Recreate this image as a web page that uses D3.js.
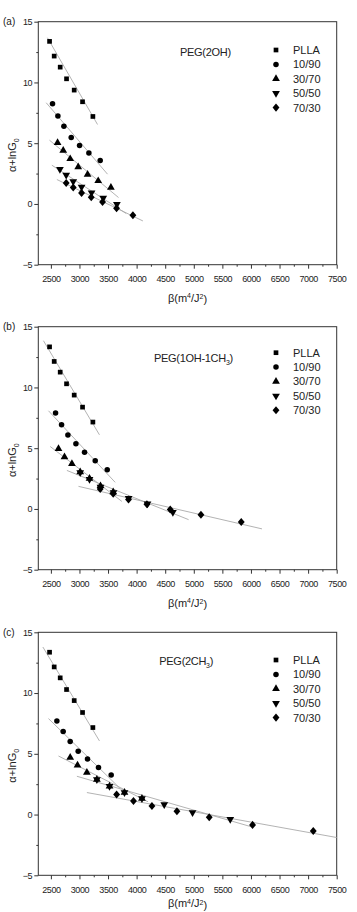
<!DOCTYPE html>
<html>
<head>
<meta charset="utf-8">
<script src="https://cdn.jsdelivr.net/npm/d3@7"></script>
<style>
    body { margin: 0; background: #fff; }
    svg { display: block; font-family: "Liberation Sans", Arial, sans-serif; }
</style>
</head>
<body>
<div id="chart"></div>
<script>
// series and axes
const seriesNames = ['PLLA', '10/90', '30/70', '50/50', '70/30'];
const panelLetters = ['(a)', '(b)', '(c)'];
const panelTitles = [['PEG(2OH)', '', ''], ['PEG(1OH-1CH', '3', ')'], ['PEG(2CH', '3', ')']];
const xTicks = [2500, 3000, 3500, 4000, 4500, 5000, 5500, 6000, 6500, 7000, 7500];
const yTicks = [-5, 0, 5, 10, 15];

// panel (a) PEG(2OH)
const aBeta = [
    [2477, 2558, 2663, 2774, 2908, 3054, 3235],
    [2529, 2623, 2728, 2856, 3002, 3165, 3363],
    [2617, 2716, 2838, 2978, 3142, 3328, 3550],
    [2658, 2768, 2891, 3037, 3212, 3416, 3655],
    [2768, 2891, 3037, 3206, 3404, 3649, 3935]
];
const aValue = [
    [13.38, 12.17, 11.26, 10.30, 9.37, 8.41, 7.20],
    [8.24, 7.23, 6.40, 5.47, 4.81, 4.20, 3.57],
    [5.03, 4.40, 3.71, 3.05, 2.42, 1.90, 1.35],
    [2.86, 2.39, 1.84, 1.40, 0.93, 0.49, -0.03],
    [1.73, 1.35, 0.91, 0.55, 0.16, -0.36, -0.93]
];
const aFit = [
    [2440, 13.68, 3316, 6.54],
    [2418, 8.33, 3491, 2.45],
    [2475, 5.25, 3683, 0.53],
    [2517, 3.19, 3818, -0.79],
    [2605, 2.01, 4110, -1.40]
];

// panel (b) PEG(1OH-1CH3)
const bBeta = [
    [2477, 2558, 2663, 2774, 2908, 3054, 3235],
    [2582, 2687, 2798, 2938, 3089, 3276, 3486],
    [2633, 2738, 2868, 3013, 3176, 3368, 3590],
    [3013, 3176, 3368, 3595, 3860, 4190, 4634],
    [3363, 3590, 3858, 4180, 4588, 5125, 5830]
];
const bValue = [
    [13.34, 12.14, 11.26, 10.30, 9.37, 8.38, 7.15],
    [7.89, 6.93, 6.08, 5.37, 4.66, 3.97, 3.23],
    [4.95, 4.27, 3.72, 3.05, 2.50, 1.90, 1.40],
    [3.00, 2.45, 1.81, 1.35, 0.88, 0.42, -0.28],
    [1.64, 1.25, 0.78, 0.38, -0.04, -0.47, -1.07]
];
const bFit = [
    [2370, 13.85, 3350, 6.10],
    [2458, 8.08, 3625, 2.19],
    [2488, 5.14, 3742, 0.62],
    [2780, 3.17, 4909, -0.88],
    [2983, 1.86, 6193, -1.64]
];

// panel (c) PEG(2CH3)
const cBeta = [
    [2477, 2558, 2663, 2774, 2908, 3054, 3235],
    [2605, 2715, 2838, 2978, 3141, 3333, 3555],
    [2838, 2966, 3130, 3305, 3526, 3788, 4093],
    [3305, 3526, 3788, 4093, 4483, 4978, 5638],
    [3650, 3945, 4268, 4705, 5270, 6028, 7090]
];
const cValue = [
    [13.36, 12.15, 11.25, 10.29, 9.38, 8.40, 7.16],
    [7.70, 6.83, 6.01, 5.21, 4.58, 3.87, 3.26],
    [4.69, 4.06, 3.46, 2.88, 2.33, 1.81, 1.32],
    [2.88, 2.33, 1.81, 1.32, 0.82, 0.16, -0.39],
    [1.65, 1.12, 0.71, 0.27, -0.22, -0.85, -1.35]
];
const cFit = [
    [2360, 13.79, 3350, 6.06],
    [2458, 7.90, 3713, 2.14],
    [2633, 4.82, 4200, 1.05],
    [2955, 3.15, 6017, -1.02],
    [3130, 1.81, 7500, -1.89]
];

const panelBeta = [aBeta, bBeta, cBeta];
const panelValue = [aValue, bValue, cValue];
const panelFit = [aFit, bFit, cFit];

// layout
const width = 357, height = 912;
const plotLeft = 38.3, plotRight = 336.7, plotH = 243;
const panelTop = [21.7, 326.7, 632.3];
const legendTop = [28.3, 26, 27.7];
const titlePos = [[180, 30], [154, 31.6], [159.3, 28.7]];
const xTitleGap = [33, 33, 28];

const svg = d3.select('#chart').append('svg')
    .attr('width', width)
    .attr('height', height);

const x = d3.scaleLinear().domain([2280, 7500]).range([plotLeft, plotRight]);

const symbols = [d3.symbolSquare, d3.symbolCircle, d3.symbolTriangle, d3.symbolTriangle, d3.symbolDiamond];
const symbolSize = [22, 24, 26, 26, 26];
const symbolRot = [0, 0, 0, 180, 0];

function marker(g, i, cx, cy) {
    g.append('path')
        .attr('d', d3.symbol().type(symbols[i]).size(symbolSize[i])())
        .attr('transform', `translate(${cx},${cy}) rotate(${symbolRot[i]}) ${i === 4 ? 'scale(1.25,0.85)' : ''}`)
        .attr('fill', '#000');
}

panelTop.forEach((top, p) => {
    const y = d3.scaleLinear().domain([-5, 15]).range([top + plotH, top]);
    const g = svg.append('g');
    const bottom = top + plotH;

    // x axis with minor ticks
    const xAxis = g.append('g').attr('transform', `translate(0,${bottom})`);
    xAxis.call(d3.axisBottom(x).tickValues(d3.range(2500, 7501, 250)).tickSize(2).tickFormat(''));
    xAxis.call(a => a.selectAll('.tick').filter(d => d % 500 === 0).select('line').attr('y2', 4));
    xAxis.select('.domain').remove();
    xAxis.selectAll('line').attr('stroke', '#333');
    g.append('g').attr('transform', `translate(0,${bottom})`)
        .call(d3.axisBottom(x).tickValues(xTicks).tickSize(0).tickPadding(11).tickFormat(d3.format('d')))
        .call(a => a.select('.domain').remove())
        .selectAll('text')
        .attr('font-size', 9)
        .attr('letter-spacing', '-0.4px')
        .attr('fill', '#222');

    // y axis with minor ticks
    const yAxis = g.append('g').attr('transform', `translate(${plotLeft},0)`);
    yAxis.call(d3.axisLeft(y).tickValues(d3.range(-5, 15.1, 2.5)).tickSize(2).tickFormat(''));
    yAxis.call(a => a.selectAll('.tick').filter(d => d % 5 === 0).select('line').attr('x2', -4));
    yAxis.select('.domain').remove();
    yAxis.selectAll('line').attr('stroke', '#333');
    g.append('g').attr('transform', `translate(${plotLeft},0)`)
        .call(d3.axisLeft(y).tickValues(yTicks).tickSize(0).tickPadding(6).tickFormat(d3.format('d')))
        .call(a => a.select('.domain').remove())
        .selectAll('text')
        .attr('font-size', 9)
        .attr('letter-spacing', '-0.3px')
        .attr('fill', '#222');

    // frame
    g.append('rect')
        .attr('x', plotLeft).attr('y', top)
        .attr('width', plotRight - plotLeft).attr('height', plotH)
        .attr('fill', 'none').attr('stroke', '#333').attr('stroke-width', 1);

    // fit lines
    g.append('g').selectAll('line')
        .data(panelFit[p])
        .enter().append('line')
        .attr('x1', d => x(d[0])).attr('y1', d => y(d[1]))
        .attr('x2', d => x(d[2])).attr('y2', d => y(d[3]))
        .attr('stroke', '#aaa')
        .attr('stroke-width', 0.9);

    // points
    const pts = g.append('g');
    panelBeta[p].forEach((betas, s) => {
        betas.forEach((b, k) => marker(pts, s, x(b), y(panelValue[p][s][k])));
    });

    // legend
    const leg = g.append('g');
    seriesNames.forEach((name, s) => {
        const ly = top + legendTop[p] + s * 14.4;
        marker(leg, s, 276, ly);
        leg.append('text')
            .attr('x', 293).attr('y', ly)
            .attr('dy', '0.36em')
            .attr('font-size', 11)
            .attr('fill', '#222')
            .text(name);
    });

    // panel title
    const t = g.append('text')
        .attr('x', titlePos[p][0]).attr('y', top + titlePos[p][1])
        .attr('dy', '0.36em')
        .attr('font-size', 11)
        .attr('letter-spacing', '-0.3px')
        .attr('fill', '#222');
    t.append('tspan').text(panelTitles[p][0]);
    if (panelTitles[p][1]) {
        t.append('tspan').attr('font-size', 7).attr('dy', '0.45em').text(panelTitles[p][1]);
        t.append('tspan').attr('dy', '-0.3em').text(panelTitles[p][2]);
    }

    // panel letter
    g.append('text')
        .attr('x', 3).attr('y', top)
        .attr('dy', '0.36em')
        .attr('font-size', 10)
        .attr('fill', '#222')
        .text(panelLetters[p]);

    // y title
    const yt = g.append('text')
        .attr('transform', `translate(12,${top + plotH / 2 + 12}) rotate(-90)`)
        .attr('text-anchor', 'middle')
        .attr('dy', '0.36em')
        .attr('font-size', 11)
        .attr('fill', '#222');
    yt.append('tspan').text('\u03b1+lnG');
    yt.append('tspan').attr('font-size', 7).attr('dy', '0.4em').text('0');

    // x title
    const xt = g.append('text')
        .attr('x', (plotLeft + plotRight) / 2).attr('y', bottom + xTitleGap[p])
        .attr('text-anchor', 'middle')
        .attr('dy', '0.36em')
        .attr('font-size', 11)
        .attr('fill', '#222');
    xt.append('tspan').text('\u03b2(m');
    xt.append('tspan').attr('font-size', 7).attr('dy', '-0.5em').text('4');
    xt.append('tspan').attr('dy', '0.32em').text('/J');
    xt.append('tspan').attr('font-size', 7).attr('dy', '-0.32em').text('2');
    xt.append('tspan').attr('dy', '0.32em').text(')');
});
</script>
</body>
</html>
